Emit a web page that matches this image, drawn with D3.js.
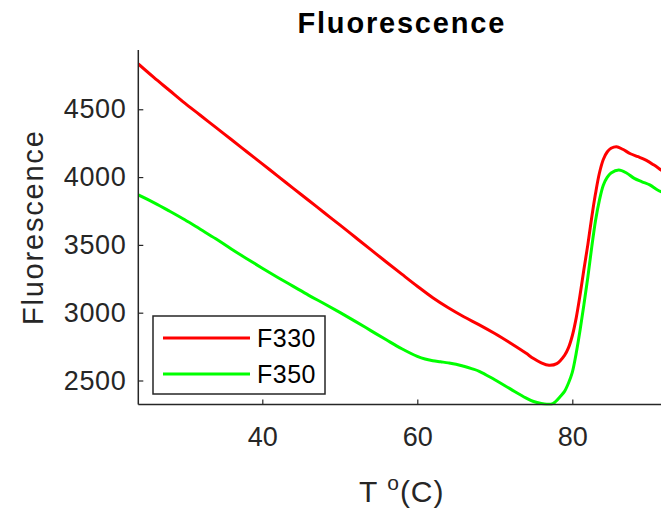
<!DOCTYPE html>
<html>
<head>
<meta charset="utf-8">
<script src="https://cdn.jsdelivr.net/npm/d3@7"></script>
<style>
  html, body { margin: 0; padding: 0; background: #fff; }
  svg { display: block; overflow: hidden; }
  text { font-family: "Liberation Sans", Arial, Helvetica, sans-serif; }
</style>
</head>
<body>
<script>
// ---- data ----
const title = "Fluorescence";
const xLabel = "T";
const yLabel = "Fluorescence";
const seriesNames = ["F330", "F350"];
const seriesColors = ["#ff0000", "#00ff00"];
const xTicks = [40, 60, 80];
const yTicks = [2500, 3000, 3500, 4000, 4500];
const xDomain = [24, 92];
const yDomain = [2323, 4937];

const tempF330 = [24, 26, 28, 30, 32, 34, 36, 38, 40, 42, 44, 46, 48, 50, 52, 54, 56, 58, 60, 62, 64, 66, 68, 70, 72, 74, 75, 76, 77, 78, 79, 79.5, 80, 80.5, 81, 81.5, 82, 82.5, 83, 83.5, 84, 84.5, 85, 85.7, 86.5, 87.5, 88.5, 89.5, 90.5, 91.5, 92];
const valF330 = [4834, 4735, 4640, 4545, 4456, 4366, 4277, 4187, 4097, 4007, 3917, 3827, 3737, 3647, 3556, 3465, 3374, 3284, 3195, 3110, 3036, 2970, 2910, 2846, 2776, 2702, 2662, 2630, 2612, 2624, 2685, 2740, 2830, 2960, 3130, 3320, 3500, 3700, 3880, 4030, 4130, 4185, 4212, 4224, 4205, 4172, 4150, 4125, 4090, 4050, 4030];

const tempF350 = [24, 26, 28, 30, 32, 34, 36, 38, 40, 42, 44, 46, 48, 50, 52, 54, 56, 58, 60, 61, 62, 63, 64, 65, 66, 67, 68, 70, 72, 74, 75, 76, 76.7, 77.5, 78.5, 79, 79.5, 80, 80.5, 81, 81.5, 82, 82.5, 83, 83.5, 84, 84.5, 85, 86, 87, 88, 89, 90, 91, 92];
const valF350 = [3868, 3812, 3750, 3685, 3615, 3545, 3470, 3398, 3328, 3260, 3194, 3128, 3066, 3002, 2936, 2868, 2800, 2734, 2678, 2658, 2646, 2638, 2630, 2620, 2605, 2588, 2568, 2505, 2438, 2372, 2345, 2330, 2325, 2330, 2385, 2420, 2480, 2560, 2700, 2870, 3060, 3260, 3480, 3680, 3830, 3940, 3998, 4030, 4052, 4030, 3990, 3965, 3942, 3905, 3880];

// ---- layout ----
const W = 661, H = 511;
const mLeft = 138.3, mRight = 665.3, mTop = 50, mBottom = 404.5;
const axisColor = "#262626";

const svg = d3.select("body").append("svg").attr("width", W).attr("height", H);

const x = d3.scaleLinear().domain(xDomain).range([mLeft, mRight]);
const y = d3.scaleLinear().domain(yDomain).range([mBottom, mTop]);

svg.append("defs").append("clipPath").attr("id", "plotclip")
  .append("rect").attr("x", mLeft).attr("y", mTop - 1).attr("width", mRight - mLeft).attr("height", mBottom - mTop + 2);

// lines
const series = [
  { name: seriesNames[0], color: seriesColors[0], t: tempF330, v: valF330 },
  { name: seriesNames[1], color: seriesColors[1], t: tempF350, v: valF350 }
];
const line = d3.line().x(d => x(d[0])).y(d => y(d[1])).curve(d3.curveCatmullRom.alpha(0.5));
const gLines = svg.append("g").attr("clip-path", "url(#plotclip)");
series.forEach(s => {
  gLines.append("path")
    .datum(s.t.map((t, i) => [t, s.v[i]]))
    .attr("fill", "none")
    .attr("stroke", s.color)
    .attr("stroke-width", 3)
    .attr("stroke-linejoin", "round")
    .attr("d", line);
});

// axes
const xAxis = d3.axisBottom(x).tickValues(xTicks).tickSize(-5).tickPadding(24).tickFormat(d3.format("d"));
const gx = svg.append("g").attr("transform", `translate(0,${mBottom})`).call(xAxis);
gx.select(".domain").attr("stroke", axisColor).attr("stroke-width", 1.5).attr("d", `M${mLeft},0H${W + 10}`);
gx.selectAll(".tick line").attr("stroke", axisColor).attr("stroke-width", 1.2);
gx.selectAll(".tick text").attr("fill", axisColor).attr("font-size", 27)
  .attr("font-family", "Liberation Sans, Arial, sans-serif").attr("dy", "0.71em").attr("y", 22);

const yAxis = d3.axisLeft(y).tickValues(yTicks).tickSize(-5).tickPadding(12).tickFormat(d3.format("d"));
const gy = svg.append("g").attr("transform", `translate(${mLeft},0)`).call(yAxis);
gy.select(".domain").attr("stroke", axisColor).attr("stroke-width", 1.5).attr("d", `M0,${mTop}V${mBottom}`);
gy.selectAll(".tick line").attr("stroke", axisColor).attr("stroke-width", 1.2);
gy.selectAll(".tick text").attr("fill", axisColor).attr("font-size", 27)
  .attr("font-family", "Liberation Sans, Arial, sans-serif").attr("letter-spacing", 0.6);

// title
svg.append("text").attr("x", (mLeft + mRight) / 2).attr("y", 33)
  .attr("text-anchor", "middle").attr("font-size", 29).attr("font-weight", "bold")
  .attr("letter-spacing", 1.8).attr("fill", "#000").text(title);

// y label
svg.append("text")
  .attr("transform", `translate(43,${(mTop + mBottom) / 2}) rotate(-90)`)
  .attr("text-anchor", "middle").attr("font-size", 29).attr("letter-spacing", 1.8)
  .attr("fill", axisColor).text(yLabel);

// x label with superscript
const xl = svg.append("text").attr("x", (mLeft + mRight) / 2).attr("y", 502)
  .attr("text-anchor", "middle").attr("font-size", 30).attr("fill", axisColor).attr("letter-spacing", 1);
xl.append("tspan").text(xLabel + " ");
xl.append("tspan").attr("font-size", 21).attr("dy", -12).text("o");
xl.append("tspan").attr("dy", 12).text("(C)");

// legend
const lg = svg.append("g");
lg.append("rect").attr("x", 153).attr("y", 316).attr("width", 172).attr("height", 78)
  .attr("fill", "#fff").attr("stroke", axisColor).attr("stroke-width", 1.5);
series.forEach((s, i) => {
  const ly = 338 + i * 36;
  lg.append("line").attr("x1", 163).attr("x2", 250).attr("y1", ly).attr("y2", ly)
    .attr("stroke", s.color).attr("stroke-width", 3);
  lg.append("text").attr("x", 257).attr("y", ly).attr("dy", "0.36em")
    .attr("font-size", 25).attr("letter-spacing", 0.5).attr("fill", "#000").text(s.name);
});
</script>
</body>
</html>
